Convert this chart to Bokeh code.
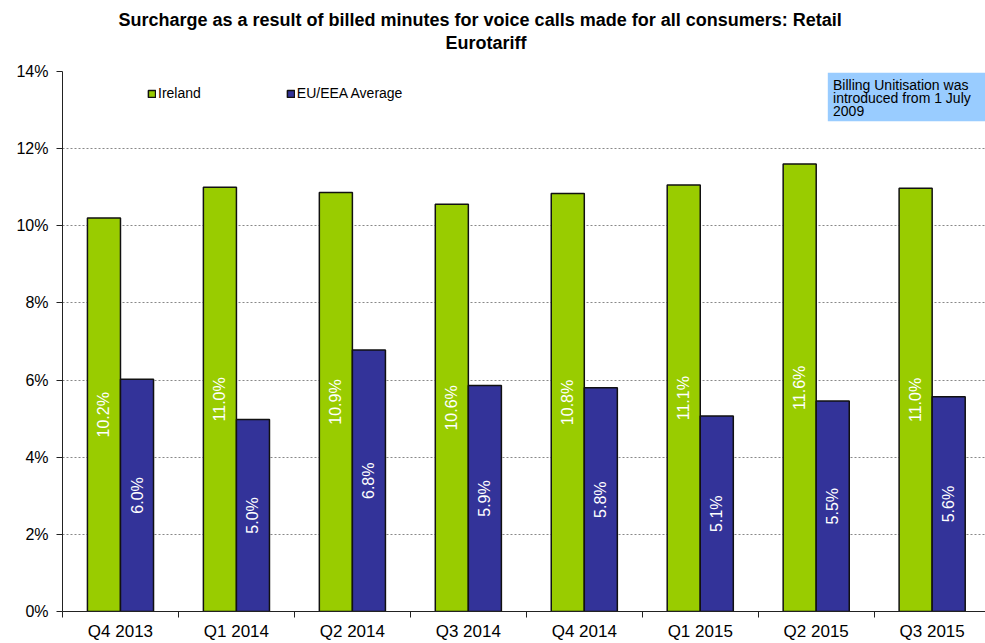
import numpy as np
from bokeh.plotting import figure
from bokeh.models import (FixedTicker, PrintfTickFormatter, Range1d, Legend, LegendItem,
                          BoxAnnotation, Title, ColumnDataSource)
from bokeh.core.properties import value
from bokeh.embed import file_html
from bokeh.resources import INLINE

# ---- data ----
quarters = ["Q4 2013", "Q1 2014", "Q2 2014", "Q3 2014", "Q4 2014", "Q1 2015", "Q2 2015", "Q3 2015"]
ireland = [10.2, 11.0, 10.86, 10.56, 10.84, 11.06, 11.6, 10.97]
eu_eea = [6.02, 4.98, 6.78, 5.86, 5.8, 5.07, 5.46, 5.57]
y_ticks = [0, 2, 4, 6, 8, 10, 12, 14]
series_names = ["Ireland", "EU/EEA Average"]
note_lines = ["Billing Unitisation was", "introduced from 1 July", "2009"]
title_lines = ["Surcharge as a result of billed minutes for voice calls made for all consumers: Retail",
               "Eurotariff"]

FONT = "Liberation Sans"
GREEN = "#99CC00"
BLUE = "#333399"
BAR_W = 0.285

W, H = 985, 643
TOP, LEFT, BOTTOM = 71, 62, 29
FRAME_H = H - TOP - BOTTOM

idx = np.arange(len(quarters))

p = figure(width=W, height=H, output_backend="svg", toolbar_location=None,
           x_range=Range1d(-0.5, 7.46), y_range=Range1d(0, 14),
           min_border_left=LEFT, min_border_right=0, min_border_top=TOP, min_border_bottom=BOTTOM)
p.outline_line_color = None
p.background_fill_color = "white"
p.border_fill_color = "white"

src_ie = ColumnDataSource(dict(x=idx - BAR_W / 2, top=ireland, mid=[v / 2 for v in ireland],
                               lab=[f"{v:.1f}%" for v in ireland]))
src_eu = ColumnDataSource(dict(x=idx + BAR_W / 2, top=eu_eea, mid=[v / 2 for v in eu_eea],
                               lab=[f"{v:.1f}%" for v in eu_eea]))

r_ie = p.vbar(x="x", top="top", width=BAR_W, source=src_ie, fill_color=GREEN,
              line_color="#111111", line_width=1.5)
r_eu = p.vbar(x="x", top="top", width=BAR_W, source=src_eu, fill_color=BLUE,
              line_color="#111111", line_width=1.5)

for src in (src_ie, src_eu):
    p.text(x="x", y="mid", text="lab", source=src, angle=np.pi / 2, text_color="white",
           text_align="center", text_baseline="middle", text_font=value(FONT),
           text_font_size="16px")

# axes
p.yaxis.ticker = FixedTicker(ticks=y_ticks)
p.yaxis.formatter = PrintfTickFormatter(format="%d%%")
p.yaxis.major_label_text_font = FONT
p.yaxis.major_label_text_font_size = "16px"
p.yaxis.major_label_text_color = "black"
p.yaxis.axis_line_color = "#222222"
p.yaxis.major_tick_line_color = "#222222"
p.yaxis.major_tick_out = 6
p.yaxis.major_tick_in = 0
p.yaxis.minor_tick_line_color = None
p.yaxis.major_label_standoff = 8

p.xaxis.ticker = FixedTicker(ticks=list(idx), minor_ticks=[i + 0.5 for i in range(-1, len(quarters))])
p.xaxis.major_label_overrides = {int(i): q for i, q in zip(idx, quarters)}
p.xaxis.major_label_text_font = FONT
p.xaxis.major_label_text_font_size = "17px"
p.xaxis.major_label_text_color = "black"
p.xaxis.axis_line_color = "#222222"
p.xaxis.major_tick_line_color = None
p.xaxis.major_tick_out = 0
p.xaxis.major_tick_in = 0
p.xaxis.minor_tick_line_color = "#222222"
p.xaxis.minor_tick_out = 6
p.xaxis.minor_tick_in = 0
p.xaxis.major_label_standoff = 4

p.xgrid.grid_line_color = None
p.ygrid.grid_line_color = "#888888"
p.ygrid.grid_line_dash = "2 2"
p.ygrid.grid_line_width = 1

# note box
p.add_layout(BoxAnnotation(left=6.1, right=None, bottom=12.71, top=13.97, level="underlay",
                           fill_color="#99CCFF", fill_alpha=1.0, line_color=None))
p.text(x=[6.145] * len(note_lines), y=[13.64 - 0.33 * i for i in range(len(note_lines))],
       text=note_lines, text_font=value(FONT), text_font_size="14px", text_color="black",
       text_baseline="alphabetic", text_align="left")

# legend
legend = Legend(items=[LegendItem(label=series_names[0], renderers=[r_ie]),
                       LegendItem(label=series_names[1], renderers=[r_eu])],
                orientation="horizontal", location=(85, FRAME_H - 33), border_line_color=None,
                background_fill_alpha=0, glyph_width=9, glyph_height=9, label_standoff=2,
                spacing=85, padding=0, margin=0, label_text_font=FONT,
                label_text_font_size="14px", label_text_color="black")
p.add_layout(legend)

# titles (first added sits closest to the plot)
p.add_layout(Title(text=" ", text_font_size="13px", standoff=1), "above")
p.add_layout(Title(text=title_lines[1], align="left", offset=383, standoff=2,
                   text_font=FONT, text_font_size="18px", text_font_style="bold",
                   text_color="black"), "above")
p.add_layout(Title(text=title_lines[0], align="left", offset=56, standoff=0,
                   text_font=FONT, text_font_size="18px", text_font_style="bold",
                   text_color="black"), "above")

open("out.html", "w").write(file_html(p, INLINE))
